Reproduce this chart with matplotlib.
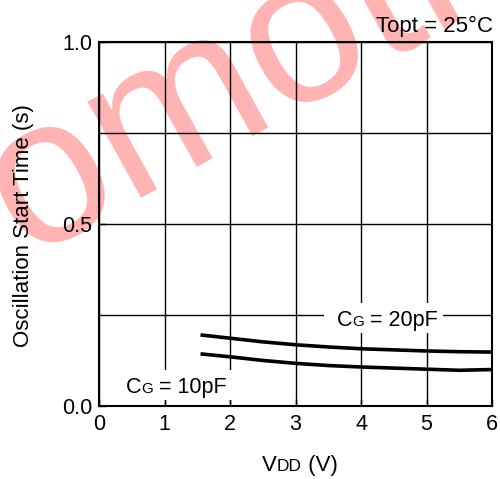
import matplotlib
matplotlib.use('Agg')
import matplotlib.pyplot as plt
from matplotlib.transforms import IdentityTransform
from matplotlib.patches import Rectangle
from matplotlib.ticker import MultipleLocator, FormatStrFormatter

plt.rcParams['font.family'] = ['Liberation Sans', 'DejaVu Sans']

# ---- data ----
vdd_20 = [1.55, 2.0, 2.5, 3.0, 3.5, 4.0, 4.5, 5.0, 5.5, 6.0]
t_20 = [0.195, 0.186, 0.176, 0.168, 0.162, 0.157, 0.154, 0.151, 0.149, 0.148]
vdd_10 = [1.55, 2.0, 2.5, 3.0, 3.5, 4.0, 4.5, 5.0, 5.5, 6.0]
t_10 = [0.143, 0.135, 0.125, 0.117, 0.111, 0.107, 0.104, 0.101, 0.098, 0.100]
x_ticks = [0, 1, 2, 3, 4, 5, 6]
y_ticks = [0.0, 0.5, 1.0]

W, H = 500, 479
fig = plt.figure(figsize=(5, 4.79), dpi=100)
ax = fig.add_axes([99 / W, 73 / H, 393 / W, 364.5 / H])
ax.patch.set_visible(False)

ID = IdentityTransform()

# watermark
fig.text(-156, 126, 'Promotion', transform=ID, rotation=29,
         rotation_mode='anchor', ha='left', va='baseline', fontsize=150,
         color='#ffb3b3', zorder=-5)

ax.plot(vdd_20, t_20, color='black', lw=2.6, solid_capstyle='butt')
ax.plot(vdd_10, t_10, color='black', lw=2.6, solid_capstyle='butt')

ax.set_xlim(0, 6)
ax.set_ylim(0, 1)
ax.set_xticks(x_ticks)
ax.set_yticks(y_ticks)
ax.yaxis.set_minor_locator(MultipleLocator(0.25))
ax.yaxis.set_major_formatter(FormatStrFormatter('%.1f'))
ax.grid(True, which='both', color='black', lw=1.0)
ax.tick_params(direction='in', length=5, width=1, labelsize=15.5, colors='black')
ax.tick_params(axis='x', pad=6)
ax.tick_params(axis='y', pad=5)
ax.tick_params(which='minor', length=0)
for s in ax.spines.values():
    s.set_linewidth(1.5)

renderer = fig.canvas.get_renderer()


def draw_pieces(x, y, pieces, ha='left', zorder=4):
    texts, widths = [], []
    for s, size in pieces:
        t = fig.text(0, 0, s, transform=ID, fontsize=size, ha='left',
                     va='baseline', zorder=zorder)
        w = t.get_window_extent(renderer).width
        texts.append(t)
        widths.append(w)
    total = sum(widths)
    if ha == 'center':
        x0 = x - total / 2
    elif ha == 'right':
        x0 = x - total
    else:
        x0 = x
    cx = x0
    for t, w in zip(texts, widths):
        t.set_position((cx, y))
        cx += w
    return x0, total


def white_box(x0, y0, w, h):
    r = Rectangle((x0, y0), w, h, transform=ID, facecolor='white',
                  edgecolor='none', zorder=2)
    fig.add_artist(r)


x0, tw = draw_pieces(337, H - 325.7, [('C', 15.5), ('G', 11), (' = 20pF', 15.5)])
white_box(x0 - 13, H - 333, tw + 18, 30)
x0, tw = draw_pieces(126, H - 392.7, [('C', 15.5), ('G', 11), (' = 10pF', 15.5)])
white_box(x0 - 13, H - 400, tw + 18, 30)

draw_pieces(300, H - 471, [('V', 16), ('DD', 12.5), (' (V)', 16)], ha='center')

fig.text(24, H - 225.5, 'Oscillation Start Time (s)', transform=ID, rotation=90,
         ha='center', va='center', fontsize=16)
fig.text(493, H - 31.7, 'Topt = 25°C', transform=ID, ha='right',
         va='baseline', fontsize=16)

fig.savefig('out.png', dpi=100)
